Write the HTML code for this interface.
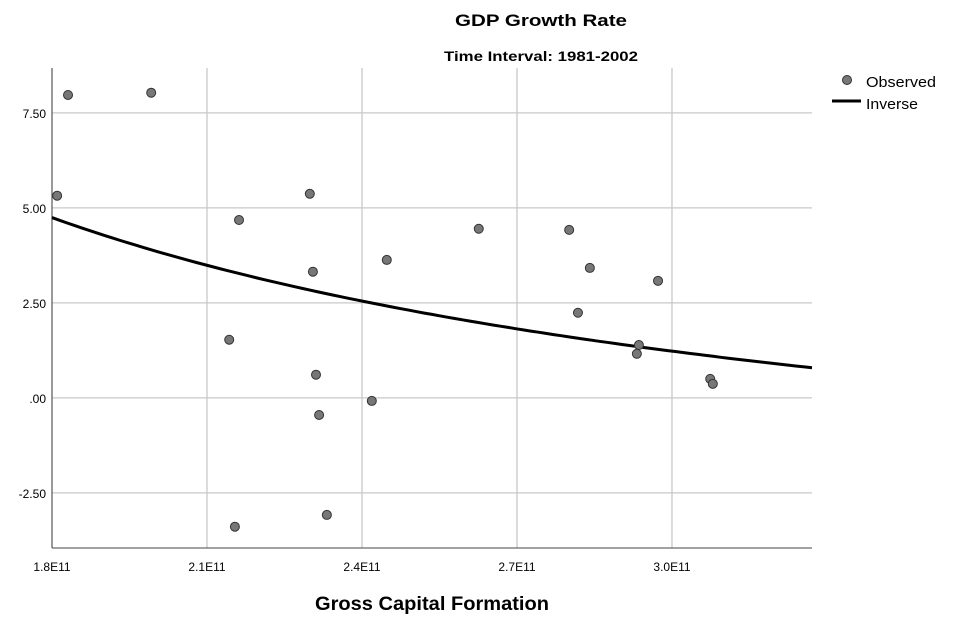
<!DOCTYPE html>
<html><head><meta charset="utf-8">
<style>
body{margin:0;background:#fff;width:961px;height:626px;overflow:hidden;font-family:"Liberation Sans",Arial,sans-serif}
svg text{font-family:"Liberation Sans",Arial,sans-serif}
</style></head>
<body>
<svg id="chart" width="961" height="626">
<text x="541" y="26" text-anchor="middle" font-size="17" font-weight="bold" fill="#000" textLength="172" lengthAdjust="spacingAndGlyphs">GDP Growth Rate</text>
<text x="541" y="61" text-anchor="middle" font-size="14" font-weight="bold" fill="#000" textLength="194" lengthAdjust="spacingAndGlyphs">Time Interval: 1981-2002</text>
<g id="grid"></g><g id="axes"></g><g id="marks"></g>
<text x="432" y="610" text-anchor="middle" font-size="19" font-weight="bold" fill="#000" textLength="234" lengthAdjust="spacingAndGlyphs">Gross Capital Formation</text>
<g>
<circle cx="847" cy="80" r="4.5" fill="#777" stroke="#333" stroke-width="1"/>
<text x="866" y="87" font-size="15" fill="#000" textLength="70" lengthAdjust="spacingAndGlyphs">Observed</text>
<line x1="832" y1="101" x2="861" y2="101" stroke="#000" stroke-width="3"/>
<text x="866" y="109" font-size="15" fill="#000" textLength="52" lengthAdjust="spacingAndGlyphs">Inverse</text>
</g>
</svg>
<script>
const xTicks=[1.8,2.1,2.4,2.7,3.0];
const xTickLabels=["1.8E11","2.1E11","2.4E11","2.7E11","3.0E11"];
const yTicks=[7.5,5,2.5,0,-2.5];
const yTickLabels=["7.50","5.00","2.50",".00","-2.50"];
const obsX=[1.810,1.831,1.992,2.162,2.143,2.154,2.299,2.305,2.311,2.317,2.332,2.419,2.448,2.626,2.801,2.818,2.841,2.973,2.936,2.932,3.074,3.079];
const obsY=[5.32,7.97,8.03,4.68,1.53,-3.39,5.37,3.32,0.61,-0.45,-3.08,-0.08,3.63,4.45,4.42,2.24,3.42,3.08,1.39,1.16,0.50,0.37];
const fitB0=-4.04, fitB1=15.81;
const xMin=1.8,xMax=3.271,yMin=-3.95,yMax=8.68;
const L=52,R=812,T=68,B=548;
const sx=v=>L+(v-xMin)/(xMax-xMin)*(R-L);
const sy=v=>B-(v-yMin)/(yMax-yMin)*(B-T);
const NS="http://www.w3.org/2000/svg";
function mk(tag,parent,attrs){const e=document.createElementNS(NS,tag);for(const k in attrs)e.setAttribute(k,attrs[k]);parent.appendChild(e);return e;}
const grid=document.getElementById('grid'),axes=document.getElementById('axes'),marks=document.getElementById('marks');
xTicks.forEach((v,i)=>{
 const l=mk('line',grid,{x1:sx(v),x2:sx(v),y1:T,y2:B,stroke:'#c8c8c8','stroke-width':1.3});
 
 
 const t=mk('text',axes,{x:sx(v),y:B+23,'text-anchor':'middle','font-size':12,fill:'#000'});
 t.textContent=xTickLabels[i];
 
 
});
yTicks.forEach((v,i)=>{
 const l=mk('line',grid,{x1:L,x2:R,y1:sy(v),y2:sy(v),stroke:'#c8c8c8','stroke-width':1.3});
 
 
 const t=mk('text',axes,{x:L-6,y:sy(v)+5,'text-anchor':'end','font-size':12,fill:'#000'});
 t.textContent=yTickLabels[i];
 
 
});
const ax=mk('line',axes,{x1:L,x2:R,y1:B,y2:B,stroke:'#444','stroke-width':1});


const ay=mk('line',axes,{x1:L,x2:L,y1:T,y2:B,stroke:'#444','stroke-width':1});


let d='';
for(let i=0;i<=100;i++){const x=xMin+(xMax-xMin)*i/100;const y=fitB0+fitB1/x;d+=(i?'L':'M')+sx(x).toFixed(1)+','+sy(y).toFixed(1);}
const p=mk('path',marks,{d:d,fill:'none',stroke:'#000','stroke-width':3});


obsX.forEach((x,i)=>{
 const c=mk('circle',marks,{cx:sx(x),cy:sy(obsY[i]),r:4.5,fill:'#777',stroke:'#333','stroke-width':1});
 
 
});
</script>
</body></html>
